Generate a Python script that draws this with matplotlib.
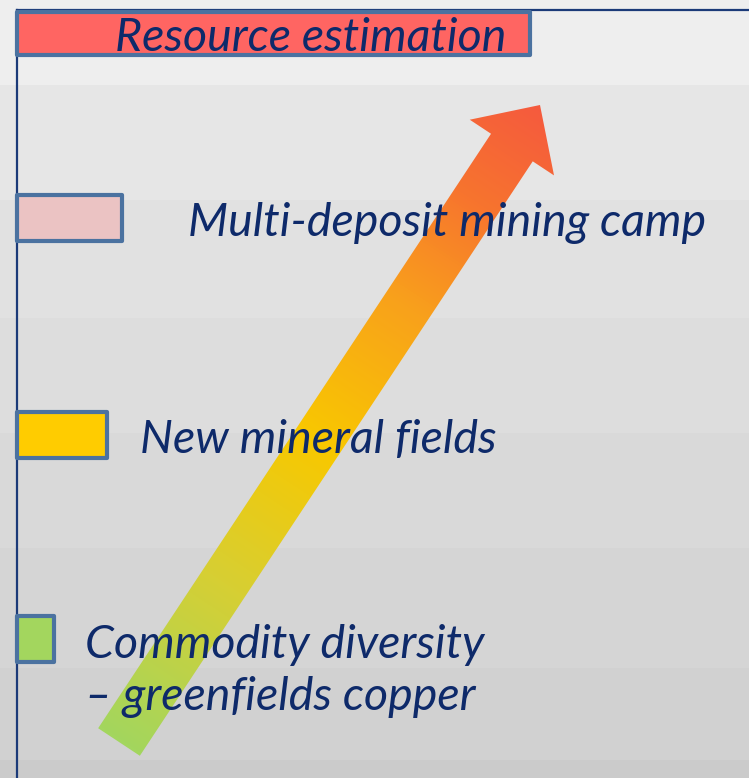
import numpy as np
import matplotlib
matplotlib.use("Agg")
import matplotlib.pyplot as plt
from matplotlib.patches import Polygon
from matplotlib.colors import LinearSegmentedColormap

# ---- data ----
labels = ["Resource estimation", "Multi-deposit mining camp", "New mineral fields",
          "Commodity diversity\n\u2013 greenfields copper"]
bar_lengths = [513, 105, 90, 37]
bar_centers = [33.5, 218, 435, 639]
bar_heights = [43, 46, 46, 46]
bar_colors = ["#FF6562", "#EBC3C3", "#FFCC00", "#A3D65E"]
label_x = [115, 188, 140, 85]
label_y = [38, 223, 440, 671]

band_edges = [0, 85, 200, 318, 433, 548, 668, 760, 778]
band_greys = ["#EEEEEE", "#E6E6E6", "#E1E1E1", "#DDDDDD", "#D9D9D9", "#D5D5D5", "#D1D1D1", "#CBCBCB"]

arrow_tail = (119, 742)
arrow_tip = (540, 105)
arrow_colors = ["#A3D65E", "#D7CF33", "#F8C800", "#F9A21B", "#F7742E", "#F55A3E"]
arrow_stops = [0.0, 0.25, 0.47, 0.68, 0.85, 1.0]

W, H = 749, 778
x0 = 17  # axis position in pixels
fig = plt.figure(figsize=(W / 100, H / 100), dpi=100)
ax = fig.add_axes([0, 0, 1, 1])
ax.set_xlim(-x0, W - x0)
ax.set_ylim(H, 0)
ax.axis("off")

for i in range(len(band_greys)):
    ax.axhspan(band_edges[i], band_edges[i + 1], color=band_greys[i], zorder=0, lw=0)

navy = "#1B3A78"
edge = "#4B72A0"
textc = "#0E2A6A"

# axis lines
ax.plot([0, 0], [10, H], color=navy, lw=1.6, zorder=1)
ax.plot([0, W - x0], [10, 10], color=navy, lw=1.6, zorder=1)

# bars
for i in range(len(labels)):
    ax.barh(bar_centers[i], bar_lengths[i], height=bar_heights[i], left=0,
            color=bar_colors[i], edgecolor=edge, linewidth=3.0, zorder=2,
            capstyle="round", joinstyle="round")

# arrow polygon
tx, ty = arrow_tail
hx, hy = arrow_tip
d = np.array([hx - tx, hy - ty], float)
L = np.linalg.norm(d)
u = d / L
n = np.array([-u[1], u[0]])
hw, headw, headl = 25, 50.5, 51
base = np.array(arrow_tip) - u * headl
tail = np.array(arrow_tail, float)
pts = [tail + n * hw, base + n * hw, base + n * headw, np.array(arrow_tip, float),
       base - n * headw, base - n * hw, tail - n * hw]
x_shift = np.array([-x0, 0])
pts = [p + x_shift for p in pts]
poly = Polygon(pts, closed=True, facecolor="none", edgecolor="none", zorder=3)
ax.add_patch(poly)

cmap = LinearSegmentedColormap.from_list("arr", list(zip(arrow_stops, arrow_colors)))
gx, gy = np.meshgrid(np.arange(W) + 0.5, np.arange(H) + 0.5)
proj = ((gx - tx) * u[0] + (gy - ty) * u[1]) / L
img = ax.imshow(np.clip(proj, 0, 1), cmap=cmap, vmin=0, vmax=1,
                extent=(-x0, W - x0, H, 0), zorder=3, interpolation="bilinear", aspect="auto")
img.set_clip_path(poly)

# labels
fam = ["Lato", "DejaVu Sans"]
for i in range(len(labels)):
    ax.text(label_x[i] - x0, label_y[i], labels[i], fontsize=33.5, style="italic",
            family=fam, color=textc, va="center", ha="left", zorder=4,
            linespacing=1.32)

ax.set_xlim(-x0, W - x0)
ax.set_ylim(H, 0)
fig.savefig("out.png", dpi=100)
